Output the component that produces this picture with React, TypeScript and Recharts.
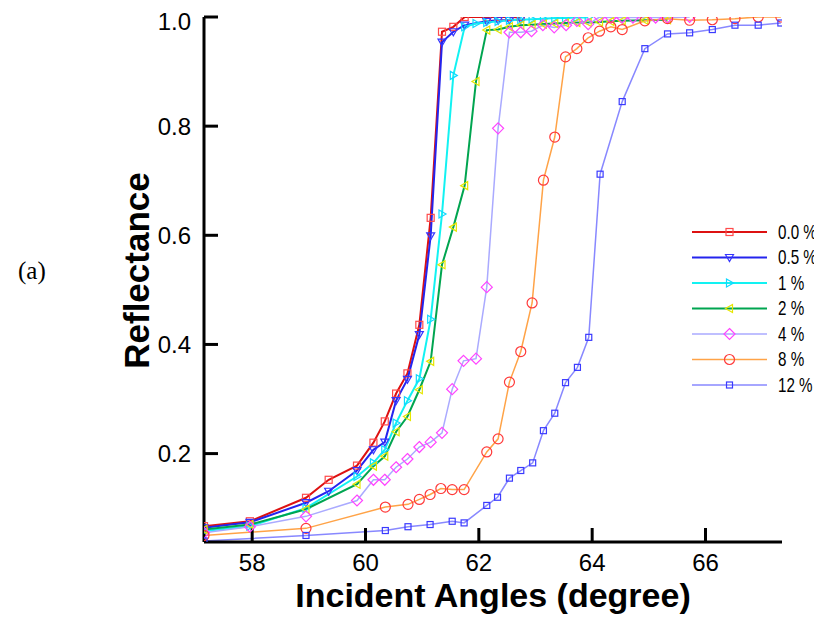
import React from 'react'
import { LineChart, Line, XAxis, YAxis, Legend, Label } from 'recharts'

// Incident angle (degree) / reflectance pairs for each concentration
const angles00 = [57.15, 57.96, 58.95, 59.35, 59.85, 60.14, 60.34, 60.54, 60.74, 60.95, 61.15, 61.35, 61.55, 61.75, 62.14, 62.34, 62.54, 62.74]
const refl00 = [0.067, 0.076, 0.119, 0.152, 0.178, 0.22, 0.259, 0.31, 0.347, 0.436, 0.632, 0.973, 0.982, 1.0, 1.0, 1.0, 1.0, 1.0]

const angles05 = [57.15, 57.96, 58.95, 59.35, 59.85, 60.14, 60.34, 60.54, 60.74, 60.95, 61.15, 61.35, 61.55, 61.75, 62.14, 62.34, 62.54, 62.74]
const refl05 = [0.064, 0.074, 0.11, 0.131, 0.169, 0.207, 0.221, 0.297, 0.336, 0.418, 0.599, 0.954, 0.973, 0.985, 0.992, 0.994, 0.994, 0.996]

const angles1 = [57.15, 57.96, 58.95, 59.85, 60.14, 60.34, 60.54, 60.74, 60.95, 61.15, 61.35, 61.55, 61.75, 61.95, 62.14, 62.34, 62.54, 62.74, 62.94, 63.14, 63.34, 63.53, 63.73, 63.93]
const refl1 = [0.058, 0.067, 0.1, 0.158, 0.183, 0.207, 0.256, 0.297, 0.337, 0.446, 0.639, 0.893, 0.982, 0.988, 0.99, 0.992, 0.994, 0.995, 0.996, 0.997, 0.998, 0.998, 0.999, 0.999]

const angles2 = [57.15, 57.96, 58.95, 59.85, 60.14, 60.34, 60.54, 60.74, 60.95, 61.15, 61.35, 61.55, 61.75, 61.95, 62.14, 62.34, 62.54, 62.74, 62.94, 63.14, 63.34, 63.53, 63.73, 63.93, 64.13, 64.33, 64.53, 64.93, 65.33]
const refl2 = [0.061, 0.07, 0.098, 0.144, 0.177, 0.195, 0.24, 0.268, 0.317, 0.369, 0.546, 0.615, 0.691, 0.882, 0.976, 0.977, 0.982, 0.985, 0.986, 0.987, 0.988, 0.989, 0.99, 0.99, 0.991, 0.992, 0.993, 0.994, 0.995]

const angles4 = [57.15, 57.96, 58.95, 59.85, 60.14, 60.34, 60.54, 60.74, 60.95, 61.15, 61.35, 61.53, 61.73, 61.95, 62.14, 62.34, 62.54, 62.74, 62.93, 63.13, 63.33, 63.54, 63.73, 63.93, 64.13, 64.33, 64.53, 64.72, 65.12, 65.33, 65.72]
const refl4 = [0.055, 0.066, 0.085, 0.114, 0.152, 0.152, 0.175, 0.19, 0.212, 0.221, 0.238, 0.318, 0.37, 0.374, 0.505, 0.796, 0.972, 0.972, 0.974, 0.985, 0.981, 0.985, 0.993, 0.987, 1.0, 0.999, 0.999, 0.999, 0.999, 0.999, 1.0]

const angles8 = [57.15, 58.95, 60.35, 60.75, 60.95, 61.14, 61.33, 61.53, 61.74, 62.14, 62.34, 62.54, 62.74, 62.94, 63.14, 63.34, 63.53, 63.73, 63.93, 64.13, 64.33, 64.53, 64.93, 65.33, 65.72, 66.12, 66.52, 66.93, 67.33]
const refl8 = [0.05, 0.063, 0.102, 0.107, 0.116, 0.125, 0.136, 0.134, 0.134, 0.203, 0.227, 0.331, 0.387, 0.476, 0.701, 0.78, 0.927, 0.942, 0.962, 0.974, 0.982, 0.977, 0.993, 0.997, 0.994, 0.995, 0.997, 1.0, 1.0]

const angles12 = [57.15, 58.95, 60.35, 60.75, 61.14, 61.53, 61.74, 62.14, 62.33, 62.54, 62.74, 62.95, 63.14, 63.34, 63.53, 63.74, 63.94, 64.14, 64.53, 64.93, 65.33, 65.72, 66.12, 66.52, 66.93, 67.33]
const refl12 = [0.04, 0.05, 0.059, 0.066, 0.07, 0.076, 0.073, 0.105, 0.12, 0.155, 0.169, 0.183, 0.242, 0.274, 0.33, 0.358, 0.413, 0.712, 0.845, 0.942, 0.969, 0.971, 0.977, 0.985, 0.985, 0.989]

const xTicks = [58, 60, 62, 64, 66]
const yTicks = [0.2, 0.4, 0.6, 0.8, 1.0]

const SANS = 'Arial, "Liberation Sans", Helvetica, sans-serif'

type Shape = 'square' | 'down' | 'right' | 'left' | 'diamond' | 'circle' | 'smallSquare'

function Marker({ cx, cy, shape, color }: { cx: number; cy: number; shape: Shape; color: string }) {
  const common = { fill: 'none', stroke: color, strokeWidth: 1.2 }
  switch (shape) {
    case 'square':
      return <rect x={cx - 3.5} y={cy - 3.5} width={7} height={7} {...common} />
    case 'smallSquare':
      return <rect x={cx - 3} y={cy - 3} width={6} height={6} {...common} />
    case 'down':
      return <path d={`M${cx - 4},${cy - 3} L${cx + 4},${cy - 3} L${cx},${cy + 4} Z`} {...common} />
    case 'right':
      return <path d={`M${cx - 3},${cy - 4} L${cx + 4},${cy} L${cx - 3},${cy + 4} Z`} {...common} />
    case 'left':
      return <path d={`M${cx + 3},${cy - 4} L${cx - 4},${cy} L${cx + 3},${cy + 4} Z`} {...common} />
    case 'diamond':
      return <path d={`M${cx},${cy - 5.5} L${cx + 5.5},${cy} L${cx},${cy + 5.5} L${cx - 5.5},${cy} Z`} {...common} />
    case 'circle':
    default:
      return <circle cx={cx} cy={cy} r={5} {...common} />
  }
}

const toRows = (xs: number[], ys: number[]) => xs.map((x, i) => ({ x, y: ys[i] }))

const series = [
  { name: '0.0 %', rows: toRows(angles00, refl00), line: '#dd1111', width: 2, mark: '#ff4a4a', shape: 'square' as Shape },
  { name: '0.5 %', rows: toRows(angles05, refl05), line: '#2424ee', width: 2, mark: '#3535ff', shape: 'down' as Shape },
  { name: '1 %', rows: toRows(angles1, refl1), line: '#12f2f2', width: 2, mark: '#10d8ff', shape: 'right' as Shape },
  { name: '2 %', rows: toRows(angles2, refl2), line: '#00a550', width: 2, mark: '#e6e600', shape: 'left' as Shape },
  { name: '4 %', rows: toRows(angles4, refl4), line: '#aaaaff', width: 1.5, mark: '#ff44ff', shape: 'diamond' as Shape },
  { name: '8 %', rows: toRows(angles8, refl8), line: '#ffa347', width: 1.5, mark: '#ff3a3a', shape: 'circle' as Shape },
  { name: '12 %', rows: toRows(angles12, refl12), line: '#8888ff', width: 1.5, mark: '#3a3aff', shape: 'smallSquare' as Shape },
]

// legend rows: line sample with marker, then a condensed label
function LegendBox() {
  return (
    <svg width={130} height={185}>
      {series.map((s, i) => {
        const y = 10 + i * 25.5
        return (
          <g key={s.name}>
            <line x1={0} x2={75} y1={y} y2={y} stroke={s.line} strokeWidth={s.width} />
            <Marker cx={37.5} cy={y} shape={s.shape} color={s.mark} />
            <text transform={`translate(86 ${y}) scale(0.76 1)`} dominantBaseline="central" fontSize={20} fontFamily={SANS} fill="#000">
              {s.name}
            </text>
          </g>
        )
      })}
    </svg>
  )
}

const yTitle = (props: any) => {
  const { x, y, height } = props.viewBox
  const cx = x - 8
  const cy = y + height / 2 - 9
  return (
    <text x={cx} y={cy} transform={`rotate(-90 ${cx} ${cy})`} textAnchor="middle" dominantBaseline="central"
      fontSize={35} fontWeight="bold" fontFamily={SANS} fill="#000">
      Reflectance
    </text>
  )
}

const xTitle = (props: any) => {
  const { x, y, width } = props.viewBox
  return (
    <text x={x + width / 2} y={y + 65} textAnchor="middle" fontSize={34} fontWeight="bold" fontFamily={SANS} fill="#000">
      Incident Angles (degree)
    </text>
  )
}

export default function App() {
  const tickStyle = { fontSize: 24, fill: '#000', fontFamily: SANS }
  return (
    <div style={{ position: 'relative', width: 814, height: 611 }}>
      <div style={{ position: 'absolute', left: 10, top: 249, fontFamily: '"Liberation Serif", "Times New Roman", serif', fontSize: 25 }}>
        (a)
      </div>
      <LineChart width={814} height={611} margin={{ top: 9, right: 40, bottom: 0, left: 136 }}>
        <XAxis
          type="number"
          dataKey="x"
          domain={[57.15, 67.35]}
          ticks={xTicks}
          height={77}
          tick={tickStyle}
          tickSize={-14}
          tickMargin={26}
          axisLine={{ stroke: '#000', strokeWidth: 3 }}
          tickLine={{ stroke: '#000', strokeWidth: 3 }}
          allowDataOverflow
        >
          <Label content={xTitle} />
        </XAxis>
        <YAxis
          type="number"
          domain={[0.038, 1.0]}
          ticks={yTicks}
          width={60}
          tick={tickStyle}
          tickSize={-14}
          tickMargin={27}
          tickFormatter={(v: number) => v.toFixed(1)}
          axisLine={{ stroke: '#000', strokeWidth: 3 }}
          tickLine={{ stroke: '#000', strokeWidth: 3 }}
          allowDataOverflow
        >
          <Label content={yTitle} />
        </YAxis>
        <Legend
          layout="horizontal"
          verticalAlign="middle"
          align="center"
          content={() => <LegendBox />}
          wrapperStyle={{ left: 684, top: 214, width: 130, right: 'auto', bottom: 'auto' }}
        />
        {series.map((s) => (
          <Line
            key={s.name}
            name={s.name}
            data={s.rows}
            dataKey="y"
            type="linear"
            stroke={s.line}
            strokeWidth={s.width}
            isAnimationActive={false}
            activeDot={false}
            dot={(p: any) => <Marker key={`${s.name}-${p.index}`} cx={p.cx} cy={p.cy} shape={s.shape} color={s.mark} />}
          />
        ))}
      </LineChart>
    </div>
  )
}
